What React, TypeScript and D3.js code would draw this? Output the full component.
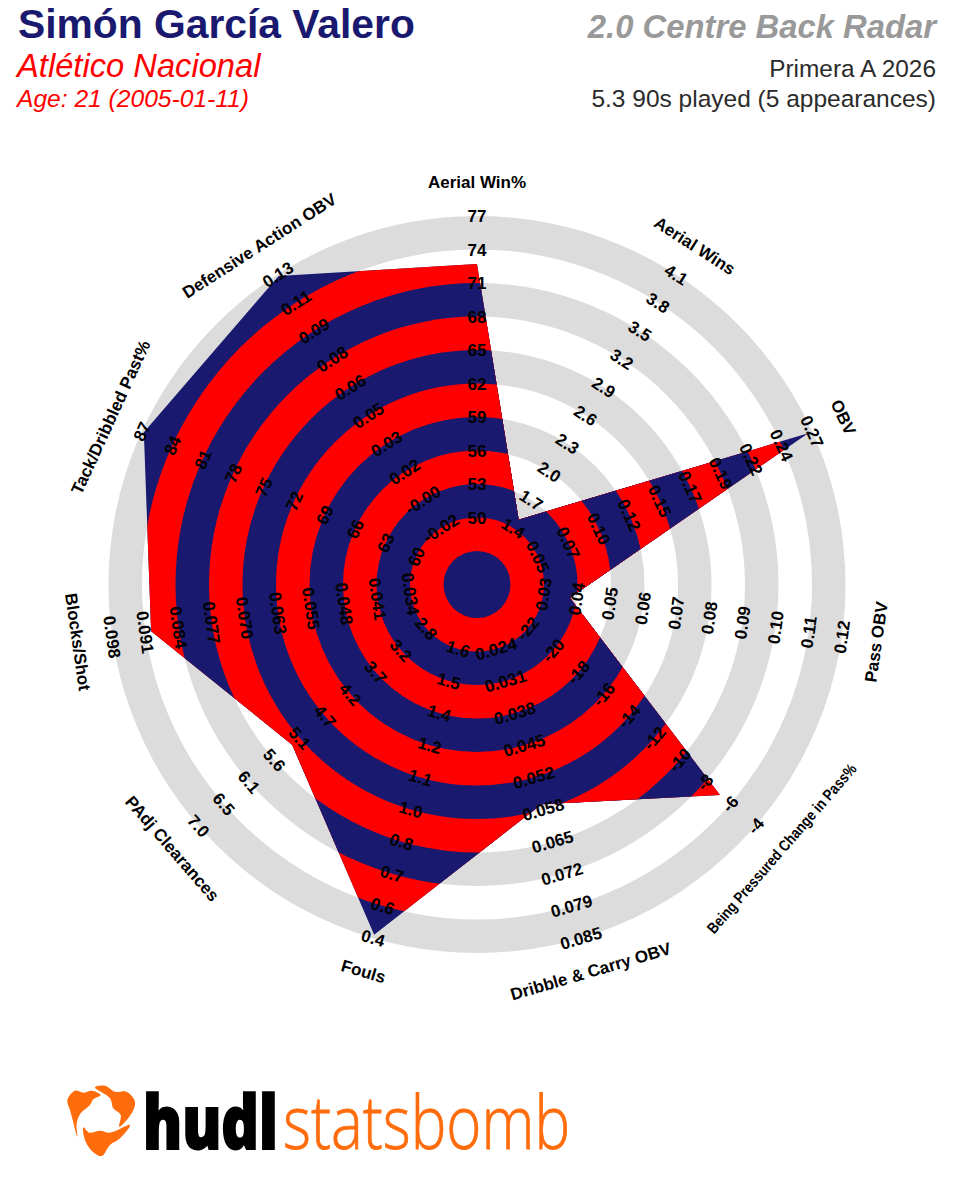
import React from "react";
import * as d3 from "d3";

const SANS = "'Liberation Sans', Arial, sans-serif";
const NAVY = "#191970";
const RED = "#ff0000";
const GREY = "#dcdcdc";
const ORANGE = "#ff6c0c";

const metrics = [
  "Aerial Win%", "Aerial Wins", "OBV", "Pass OBV", "Being Pressured Change in Pass%",
  "Dribble & Carry OBV", "Fouls", "PAdj Clearances", "Blocks/Shot", "Tack/Dribbled Past%",
  "Defensive Action OBV",
];

const tickLabels: string[][] = [
  ["50", "53", "56", "59", "62", "65", "68", "71", "74", "77"],
  ["1.4", "1.7", "2.0", "2.3", "2.6", "2.9", "3.2", "3.5", "3.8", "4.1"],
  ["0.05", "0.07", "0.10", "0.12", "0.15", "0.17", "0.19", "0.22", "0.24", "0.27"],
  ["0.03", "0.04", "0.05", "0.06", "0.07", "0.08", "0.09", "0.10", "0.11", "0.12"],
  ["-22", "-20", "-18", "-16", "-14", "-12", "-10", "-8", "-6", "-4"],
  ["0.024", "0.031", "0.038", "0.045", "0.052", "0.058", "0.065", "0.072", "0.079", "0.085"],
  ["1.6", "1.5", "1.4", "1.2", "1.1", "1.0", "0.8", "0.7", "0.6", "0.4"],
  ["2.8", "3.2", "3.7", "4.2", "4.7", "5.1", "5.6", "6.1", "6.5", "7.0"],
  ["0.034", "0.041", "0.048", "0.055", "0.063", "0.070", "0.077", "0.084", "0.091", "0.098"],
  ["60", "63", "66", "69", "72", "75", "78", "81", "84", "87"],
  ["-0.02", "-0.00", "0.02", "0.03", "0.05", "0.06", "0.08", "0.09", "0.11", "0.13"],
];

const playerValues = [72.7, 1.49, 0.266, 0.038, -6.8, 0.057, 0.42, 5.25, 0.0898, 86.8, 0.129];

const bandCount = 11;
const CX = 477;
const CY = 584.5;
const BAND = 33.5;
const LABEL_R = 403;

const bandIndex = d3.range(1, bandCount + 1);
const radius = d3.scaleLinear().domain([0, bandCount]).range([0, BAND * bandCount]);
const angle = d3.scaleLinear().domain([0, metrics.length]).range([0, 2 * Math.PI]);

const tickRadii = tickLabels[0].map((_, i) => radius(i + 2));
const axisScales = tickLabels.map((labels) =>
  d3.scaleLinear().domain(labels.map(Number)).range(tickRadii)
);

const polar = (a: number, r: number): [number, number] => [r * Math.sin(a), -r * Math.cos(a)];

const rotationFor = (a: number) => {
  const deg = (a * 180) / Math.PI;
  if (deg > 90 && deg < 270) return deg - 180;
  return deg > 270 ? deg - 360 : deg;
};

const polygonPath =
  d3
    .line()
    .curve(d3.curveLinearClosed)(playerValues.map((v, i) => polar(angle(i), axisScales[i](v)))) ?? "";

const blob = d3.line().curve(d3.curveCatmullRomClosed.alpha(0.5));
const logoBlobs: [number, number][][] = [
  [[122, 45], [95, 32], [70, 38], [45, 32], [22, 60], [30, 90], [38, 120], [52, 170], [50, 130], [62, 100], [90, 75], [100, 58]],
  [[105, 22], [135, 17], [165, 35], [200, 35], [225, 65], [215, 100], [178, 140], [182, 105], [160, 85], [150, 55]],
  [[70, 142], [88, 158], [120, 152], [150, 158], [210, 135], [180, 175], [150, 195], [125, 228], [95, 212], [75, 180]],
];

export default function App() {
  return (
    <svg
      width={954}
      height={1200}
      viewBox="0 0 954 1200"
      style={{ position: "absolute", left: 0, top: 0, background: "#fff" }}
      fontFamily={SANS}
    >
      <text x={18} y={38} fontSize={40.8} fontWeight={700} fill={NAVY}>Simón García Valero</text>
      <text x={17} y={77} fontSize={32.7} fontStyle="italic" fill={RED}>Atlético Nacional</text>
      <text x={17} y={107} fontSize={24.6} fontStyle="italic" fill={RED}>Age: 21 (2005-01-11)</text>
      <text x={936} y={37.5} fontSize={32.8} fontWeight={700} fontStyle="italic" fill="#999999" textAnchor="end">2.0 Centre Back Radar</text>
      <text x={936} y={77} fontSize={24.4} fill="#2b2b2b" textAnchor="end">Primera A 2026</text>
      <text x={936} y={107} fontSize={24.5} fill="#2b2b2b" textAnchor="end">5.3 90s played (5 appearances)</text>

      <g transform={`translate(${CX},${CY})`}>
        <defs>
          <clipPath id="player-clip">
            <path d={polygonPath} />
          </clipPath>
        </defs>
        {bandIndex.slice().reverse().map((k) => (
          <circle key={k} r={radius(k)} fill={k % 2 === 1 ? GREY : "#ffffff"} />
        ))}
        <g clipPath="url(#player-clip)">
          {bandIndex.slice().reverse().map((k) => (
            <circle key={k} r={radius(k)} fill={k % 2 === 1 ? NAVY : RED} />
          ))}
        </g>

        {tickLabels.map((labels, i) => {
          const a = angle(i);
          const rot = rotationFor(a);
          return labels.map((t, j) => {
            const [x, y] = polar(a, axisScales[i](Number(t)));
            return (
              <text
                key={`${i}-${j}`}
                transform={`translate(${x},${y}) rotate(${rot})`}
                textAnchor="middle"
                dy="0.36em"
                fontSize={17}
                fontWeight={700}
                fill="#000"
              >
                {t}
              </text>
            );
          });
        })}

        {metrics.map((m, i) => {
          const a = angle(i);
          const [x, y] = polar(a, LABEL_R);
          const long = m.length > 25;
          return (
            <text
              key={m}
              transform={`translate(${x},${y}) rotate(${rotationFor(a)})`}
              textAnchor="middle"
              dy="0.36em"
              fontSize={long ? 15.5 : 17}
              fontWeight={700}
              fill="#000"
              {...(long ? { textLength: 219, lengthAdjust: "spacingAndGlyphs" } : {})}
            >
              {m}
            </text>
          );
        })}
      </g>

      <g transform="translate(60,1080) scale(0.3333)">
        {logoBlobs.map((b, i) => (
          <path key={i} d={blob(b) ?? ""} fill={ORANGE} />
        ))}
      </g>
      <text transform="translate(143,1149) scale(0.79,1)" fontFamily="'Open Sans', sans-serif" fontWeight={800} fontSize={74} stroke="#000" strokeWidth={2} fill="#000">hudl</text>
      <text transform="translate(283,1149) scale(0.81,1)" fontFamily="'Open Sans', sans-serif" fontWeight={300} fontSize={74} stroke={ORANGE} strokeWidth={0.8} fill={ORANGE}>statsbomb</text>
    </svg>
  );
}
